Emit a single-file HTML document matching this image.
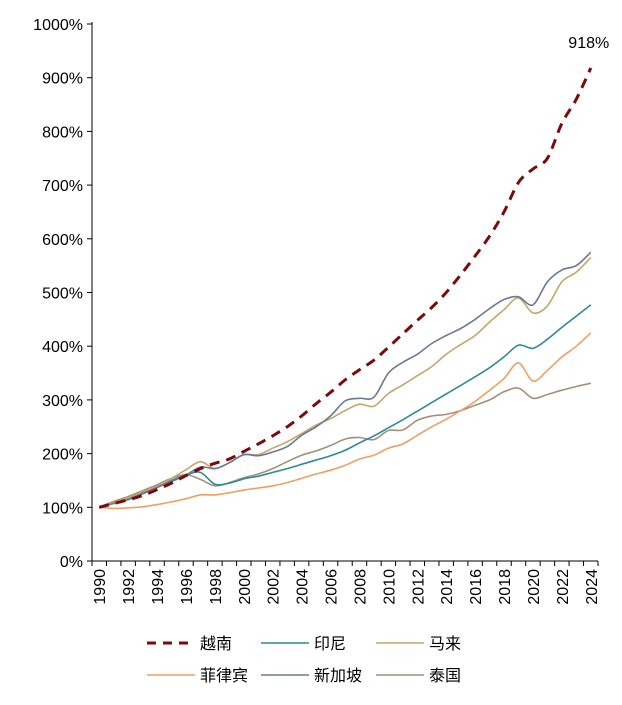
<!DOCTYPE html>
<html><head><meta charset="utf-8"><style>
body{margin:0;background:#fff;}
svg text{font-family:"Liberation Sans","Noto Sans CJK SC",sans-serif;}
</style></head><body>
<svg id="chart" width="622" height="700" xmlns="http://www.w3.org/2000/svg"></svg>
<script>
const years=[];for(let y=1990;y<=2024;y++)years.push(y);
const yTicks=[0,100,200,300,400,500,600,700,800,900,1000];
const vietnam=[100,107,114,122,133,145,159,172,182,190,204,218,233,250,270,293,314,337,356,374,398,423,448,472,500,533,568,605,650,705,730,750,815,860,918];
const indonesia=[100,109,117,127,137,150,160,165,143,145,153,158,165,172,180,188,196,206,220,233,248,263,279,295,311,327,343,360,380,402,396,413,435,456,477];
const malaysia=[100,109,118,129,140,154,170,185,172,183,198,198,210,222,237,253,265,280,292,288,312,328,345,362,385,403,420,445,468,490,462,475,520,538,565];
const philippines=[100,98,99,101,105,110,116,123,123,127,132,136,140,146,154,162,169,178,190,197,210,218,234,250,264,280,297,318,340,369,335,355,380,400,425];
const singapore=[100,107,114,125,137,148,160,175,172,183,198,196,203,213,234,250,270,298,303,305,350,370,385,405,420,433,450,470,487,492,477,520,542,550,575];
const thailand=[100,111,120,131,142,154,161,152,140,146,155,162,172,185,197,205,215,227,230,226,243,244,262,270,273,280,290,300,315,322,303,310,318,325,331];
const names=["越南","印尼","马来","菲律宾","新加坡","泰国"];
const NS="http://www.w3.org/2000/svg";
const svg=document.getElementById('chart');
const L=92,R=598,T=24,B=561;
const step=(R-L)/years.length;
const xS=i=>L+step*(i+0.5);
const yS=v=>B-(v/1000)*(B-T);
function mk(tag,attrs,parent){const e=document.createElementNS(NS,tag);for(const k in attrs)e.setAttribute(k,attrs[k]);(parent||svg).appendChild(e);return e;}
function smooth(pts){
  let d='M'+pts[0][0].toFixed(1)+' '+pts[0][1].toFixed(1);
  for(let i=0;i<pts.length-1;i++){
    const p0=pts[Math.max(0,i-1)],p1=pts[i],p2=pts[i+1],p3=pts[Math.min(pts.length-1,i+2)];
    const t=0.16;
    const c1=[p1[0]+(p2[0]-p0[0])*t,p1[1]+(p2[1]-p0[1])*t];
    const c2=[p2[0]-(p3[0]-p1[0])*t,p2[1]-(p3[1]-p1[1])*t];
    d+=` C${c1[0].toFixed(1)} ${c1[1].toFixed(1)} ${c2[0].toFixed(1)} ${c2[1].toFixed(1)} ${p2[0].toFixed(1)} ${p2[1].toFixed(1)}`;
  }
  return d;
}
let a=mk('line',{x1:L,y1:T-2,x2:L,y2:B,stroke:'#000','stroke-width':1});


a=mk('line',{x1:L,y1:B,x2:R,y2:B,stroke:'#000','stroke-width':1});


yTicks.forEach(v=>{
  mk('line',{x1:L-5,y1:yS(v),x2:L,y2:yS(v),stroke:'#000'});
  const t=mk('text',{x:L-9,y:yS(v)+6,'text-anchor':'end','font-size':16,fill:'#000'});
  t.textContent=v+'%';
  
  
});
for(let i=0;i<=years.length;i++){mk('line',{x1:L+step*i,y1:B,x2:L+step*i,y2:B+5,stroke:'#000'});}
years.forEach((yr,i)=>{
  if(i%2)return;
  const x=xS(i)+6,y=B+8;
  const t=mk('text',{x:x,y:y,'text-anchor':'end','font-size':16,fill:'#000',transform:`rotate(-90 ${x} ${y})`});
  t.textContent=yr;
  
  
});
const series=[[vietnam,'#7b0a0a',3,'10 7'],[indonesia,'#2f8a9a',1.6,''],[malaysia,'#c4a668',1.6,''],[philippines,'#ee9f63',1.6,''],[singapore,'#6d7896',1.6,''],[thailand,'#a39078',1.6,'']];
const snames=['vietnam-line','indonesia-line','malaysia-line','philippines-line','singapore-line','thailand-line'];
[5,3,1,2,4,0].forEach(k=>{
  const [d,c,w,da]=series[k];
  const p=mk('path',{d:smooth(d.map((v,i)=>[xS(i),yS(v)])),fill:'none',stroke:c,'stroke-width':w,'stroke-dasharray':da,'stroke-linejoin':'round'});
  
  
});
const lbl=mk('text',{x:xS(34)-2,y:yS(vietnam[34])-20,'text-anchor':'middle','font-size':16,fill:'#000'});
lbl.textContent=vietnam[34]+'%';


const cols=[147,261,376],rows=[643,675];
names.forEach((n,k)=>{
  const x=cols[k%3],y=rows[Math.floor(k/3)];
  const g=mk('g',{});
  
  
  const [d,c,w,da]=series[k];
  mk('line',{x1:x,y1:y,x2:x+48,y2:y,stroke:c,'stroke-width':k===0?3:1.6,'stroke-dasharray':k===0?'9 7':''},g);
  const t=mk('text',{x:x+53,y:y+6,'font-size':16,fill:'#000'},g);
  t.textContent=n;
});
</script>
</body></html>
